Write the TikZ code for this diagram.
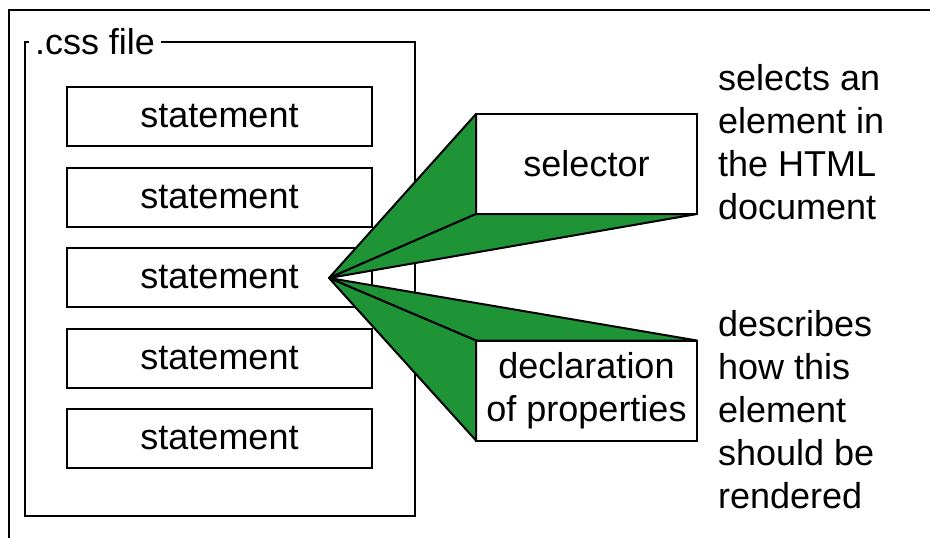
\documentclass[tikz,border=0pt]{standalone}
\usepackage{fontspec}
\setmainfont{Liberation Sans}
\definecolor{cssgreen}{RGB}{30,148,54}

\begin{document}
\begin{tikzpicture}[x=0.5pt,y=-0.5pt,line width=1pt,
        every node/.style={font=\fontsize{18}{21.5}\selectfont},
        stmt/.style={draw,minimum width=152.5pt,minimum height=29.5pt,inner sep=0pt,outer sep=0pt},
        part/.style={draw,fill=white,minimum width=110.5pt,minimum height=50pt,inner sep=0pt,outer sep=0pt,align=center},
        wedge/.style={draw,fill=cssgreen,line join=round},
        note/.style={anchor=north west,align=left,inner sep=0pt}]
        \useasboundingbox (0,0) rectangle (930,537);
        \draw[line width=1.2pt] (9,540) -- (9,10) -- (940,10);
        \draw (25,42) rectangle (415,516);
        \node[fill=white,anchor=west,inner xsep=3pt,inner ysep=1pt] (file) at (28,42) {.css file};
        \foreach \i in {1,...,5}
            \node[stmt] (st\i) at (219.5,36+80.5*\i) {statement};
        \node[part] (sel) at (586.5,164) {selector};
        \node[part] (decl) at (586.5,390.5) {declaration\\of properties};
        \coordinate (apex) at (329,278);
        \filldraw[wedge] (apex) -- (sel.north west) -- (sel.south west) -- cycle;
        \filldraw[wedge] (apex) -- (sel.south west) -- (sel.south east) -- cycle;
        \filldraw[wedge] (apex) -- (decl.north west) -- (decl.north east) -- cycle;
        \filldraw[wedge] (apex) -- (decl.north west) -- (decl.south west) -- cycle;
        \node[note] (what) at (717,63) {selects an\\element in\\the HTML\\document};
        \node[note] (how) at (717,309) {describes\\how this\\element\\should be\\rendered};
    \end{tikzpicture}
\end{document}
